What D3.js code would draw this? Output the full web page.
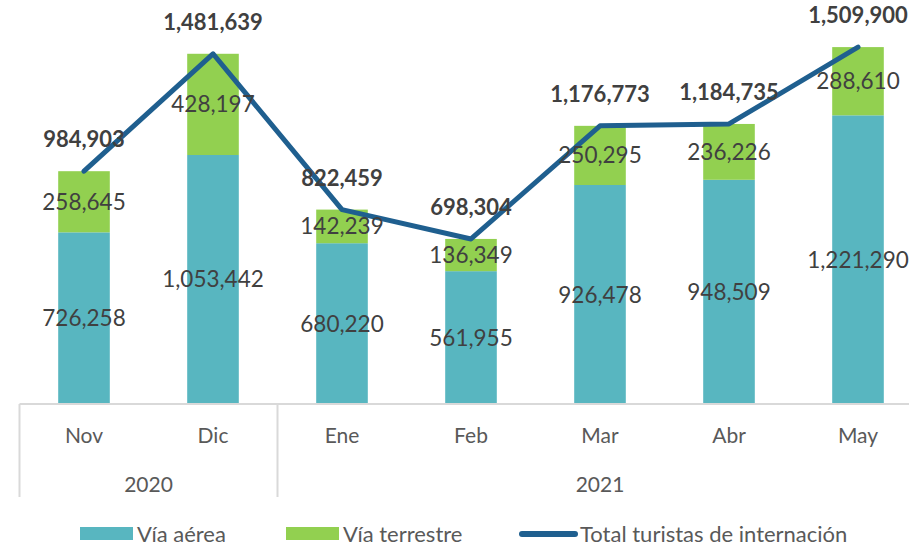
<!DOCTYPE html>
<html>
<head>
<meta charset="utf-8">
<script src="https://cdn.jsdelivr.net/npm/d3@7"></script>
<style>
  body { margin: 0; background: #fff; }
  text { font-family: Lato, "Open Sans", sans-serif; }
</style>
</head>
<body>
<div id="chart"></div>
<script>
const months = ["Nov", "Dic", "Ene", "Feb", "Mar", "Abr", "May"];
const years = ["2020", "2020", "2021", "2021", "2021", "2021", "2021"];
const viaAerea = [726258, 1053442, 680220, 561955, 926478, 948509, 1221290];
const viaTerrestre = [258645, 428197, 142239, 136349, 250295, 236226, 288610];
const totals = [984903, 1481639, 822459, 698304, 1176773, 1184735, 1509900];

const width = 909, height = 547;
const baseY = 404;

const svg = d3
  .select("#chart")
  .append("svg")
  .attr("width", width)
  .attr("height", height);

const x = d3.scaleBand().domain(months).range([19.5, 922.5])
  .paddingInner(0.6).paddingOuter(0.3);
const y = d3.scaleLinear().domain([0, 1600000]).range([baseY, 25.8]);

const fmt = d3.format(",");
const cx = (m) => x(m) + x.bandwidth() / 2;

const rows = months.map((m, i) => ({
  m, air: viaAerea[i], land: viaTerrestre[i], total: totals[i]
}));

// bars
svg.selectAll(".air").data(rows).enter().append("rect")
  .attr("x", (d) => x(d.m)).attr("width", x.bandwidth())
  .attr("y", (d) => y(d.air)).attr("height", (d) => y(0) - y(d.air))
  .attr("fill", "#58b6c0");

svg.selectAll(".land").data(rows).enter().append("rect")
  .attr("x", (d) => x(d.m)).attr("width", x.bandwidth())
  .attr("y", (d) => y(d.air + d.land)).attr("height", (d) => y(d.air) - y(d.air + d.land))
  .attr("fill", "#92d050");

// axis
const axisG = svg.append("g").attr("stroke", "#d9d9d9").attr("stroke-width", 2);
axisG.append("line").attr("x1", x.range()[0]).attr("x2", width)
  .attr("y1", baseY).attr("y2", baseY);

const groups = d3.groups(rows.map((d, i) => ({ ...d, year: years[i] })), (d) => d.year);
const edges = [x.range()[0]];
groups.forEach((g, gi) => {
  if (gi > 0) edges.push(x(g[1][0].m) - x.step() * x.paddingInner() / 2);
});
edges.forEach((ex) => {
  axisG.append("line").attr("x1", ex).attr("x2", ex)
    .attr("y1", baseY).attr("y2", 497);
});

svg.selectAll(".month").data(months).enter().append("text")
  .attr("x", (d) => cx(d)).attr("y", 443)
  .attr("text-anchor", "middle").attr("font-size", 21).attr("fill", "#595959")
  .text((d) => d);

svg.selectAll(".year").data(groups).enter().append("text")
  .attr("x", (g) => (cx(g[1][0].m) + cx(g[1][g[1].length - 1].m)) / 2)
  .attr("y", 492)
  .attr("text-anchor", "middle").attr("font-size", 21).attr("fill", "#595959")
  .text((g) => g[0]);

// total line
const line = d3.line().x((d) => cx(d.m)).y((d) => y(d.total));
svg.append("path").datum(rows).attr("d", line)
  .attr("fill", "none").attr("stroke", "#1f5f8f").attr("stroke-width", 5)
  .attr("stroke-linecap", "round").attr("stroke-linejoin", "round");

// value labels
svg.selectAll(".airLbl").data(rows).enter().append("text")
  .attr("x", (d) => cx(d.m)).attr("y", (d) => (y(0) + y(d.air)) / 2 + 8)
  .attr("text-anchor", "middle").attr("font-size", 22.5).attr("fill", "#404040")
  .text((d) => fmt(d.air));

svg.selectAll(".landLbl").data(rows).enter().append("text")
  .attr("x", (d) => cx(d.m)).attr("y", (d) => (y(d.air) + y(d.air + d.land)) / 2 + 8)
  .attr("text-anchor", "middle").attr("font-size", 22.5).attr("fill", "#404040")
  .text((d) => fmt(d.land));

svg.selectAll(".totLbl").data(rows).enter().append("text")
  .attr("x", (d) => cx(d.m)).attr("y", (d) => y(d.total) - 24)
  .attr("text-anchor", "middle").attr("font-size", 22).attr("font-weight", "bold")
  .attr("fill", "#404040")
  .text((d) => fmt(d.total));

// legend
const legend = svg.append("g").attr("transform", "translate(0, 534)");
const legendItems = [
  { label: "Vía aérea", color: "#58b6c0", type: "rect", x: 80 },
  { label: "Vía terrestre", color: "#92d050", type: "rect", x: 286 },
  { label: "Total turistas de internación", color: "#1f5f8f", type: "line", x: 519 },
];
legendItems.forEach((d) => {
  if (d.type === "rect") {
    legend.append("rect").attr("x", d.x).attr("y", -7).attr("width", 53).attr("height", 13)
      .attr("fill", d.color);
  } else {
    legend.append("line").attr("x1", d.x + 3).attr("x2", d.x + 56).attr("y1", 0).attr("y2", 0)
      .attr("stroke", d.color).attr("stroke-width", 6).attr("stroke-linecap", "round");
  }
  legend.append("text").attr("x", d.x + (d.type === "rect" ? 57 : 61)).attr("y", 8)
    .attr("font-size", 22).attr("fill", "#595959").text(d.label);
});
</script>
</body>
</html>
